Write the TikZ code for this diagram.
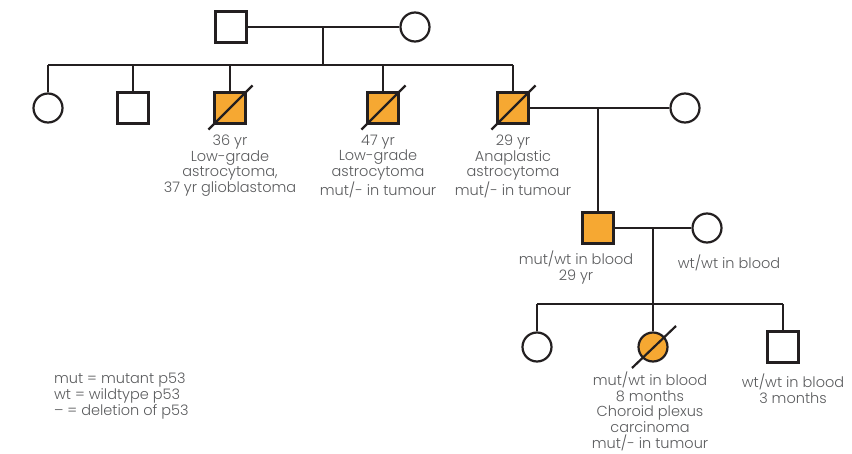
\documentclass[tikz,border=0pt]{standalone}
\usepackage{fontspec}
\setmainfont{Poppins}[UprightFont=* Light]
\usetikzlibrary{positioning}
\definecolor{affected}{HTML}{F6A832}
\definecolor{penline}{HTML}{231F20}
\definecolor{labelgrey}{HTML}{5A5B5D}
\begin{document}
\begin{tikzpicture}[x=1pt, y=-1pt, line width=2.2pt,
  male/.style = {draw=penline, rectangle, minimum size=31pt, inner sep=0pt, fill=white},
  female/.style = {draw=penline, circle, minimum size=29pt, inner sep=0pt, fill=white},
  aff/.style = {fill=affected},
  rel/.style = {draw=penline},
  slash/.style = {draw=penline},
  info/.style = {text=labelgrey, align=center, inner sep=0pt, font=\fontsize{14.5}{15.8}\selectfont}]
\useasboundingbox (0,0) rectangle (852,454);

\node[male] (gf) at (231,27) {};
\node[female] (gm) at (415,27) {};
\coordinate (gpm) at (323,27);
\coordinate (sib1) at (323,65);

\node[female] (c1) at (48,108) {};
\node[male] (c2) at (133,108) {};
\node[male, aff] (c3) at (230,108) {};
\node[male, aff] (c4) at (383,108) {};
\node[male, aff] (c5) at (513,108) {};
\node[female] (sp5) at (685,108) {};
\coordinate (m2) at (598,108);

\node[male, aff] (g1) at (598,228) {};
\node[female] (sp6) at (707,228) {};
\coordinate (m3) at (653,228);
\coordinate (sib2) at (653,304);

\node[female] (d1) at (537,347) {};
\node[female, aff] (d2) at (653,347) {};
\node[male] (d3) at (783,347) {};

\draw[rel] (gf) -- (gm);
\draw[rel] (gpm) -- (sib1);
\draw[rel] (c1.north |- sib1) -- (c5.north |- sib1);
\foreach \n in {c1,c2,c3,c4,c5}
  \draw[rel] (\n.north) -- (\n.north |- sib1);

\draw[rel] (c5) -- (sp5);
\draw[rel] (m2) -- (g1);
\draw[rel] (g1) -- (sp6);
\draw[rel] (m3) -- (sib2);
\draw[rel] (d1.north |- sib2) -- (d3.north |- sib2);
\foreach \n in {d1,d2,d3}
  \draw[rel] (\n.north) -- (\n.north |- sib2);

\foreach \n in {c3,c4,c5}
  \draw[slash] ([shift={(-5,5)}]\n.south west) -- ([shift={(6,-6)}]\n.north east);
\draw[slash] ([shift={(-21,21)}]d2.center) -- ([shift={(23,-21)}]d2.center);

\node[info, below=9pt of c3] (c3info) {36 yr\\Low-grade\\astrocytoma,\\37 yr glioblastoma};
\node[info, below=9pt of c4, xshift=-5pt] (c4info) {47 yr\\Low-grade\\astrocytoma\\mut/- in tumour};
\node[info, below=9pt of c5] (c5info) {29 yr\\Anaplastic\\astrocytoma\\mut/- in tumour};
\node[info, below=5pt of g1, xshift=-22pt] (g1info) {mut/wt in blood\\29 yr};
\node[info, below=10pt of sp6, xshift=22pt] (sp6info) {wt/wt in blood};
\node[info, below=8pt of d2, xshift=-3pt] (d2info) {mut/wt in blood\\8 months\\Choroid plexus\\carcinoma\\mut/- in tumour};
\node[info, below=9pt of d3, xshift=10pt] (d3info) {wt/wt in blood\\3 months};

\node[info, align=left, anchor=north west] (legend) at (53,372) {mut = mutant p53\\wt = wildtype p53\\– = deletion of p53};
\end{tikzpicture}
\end{document}
